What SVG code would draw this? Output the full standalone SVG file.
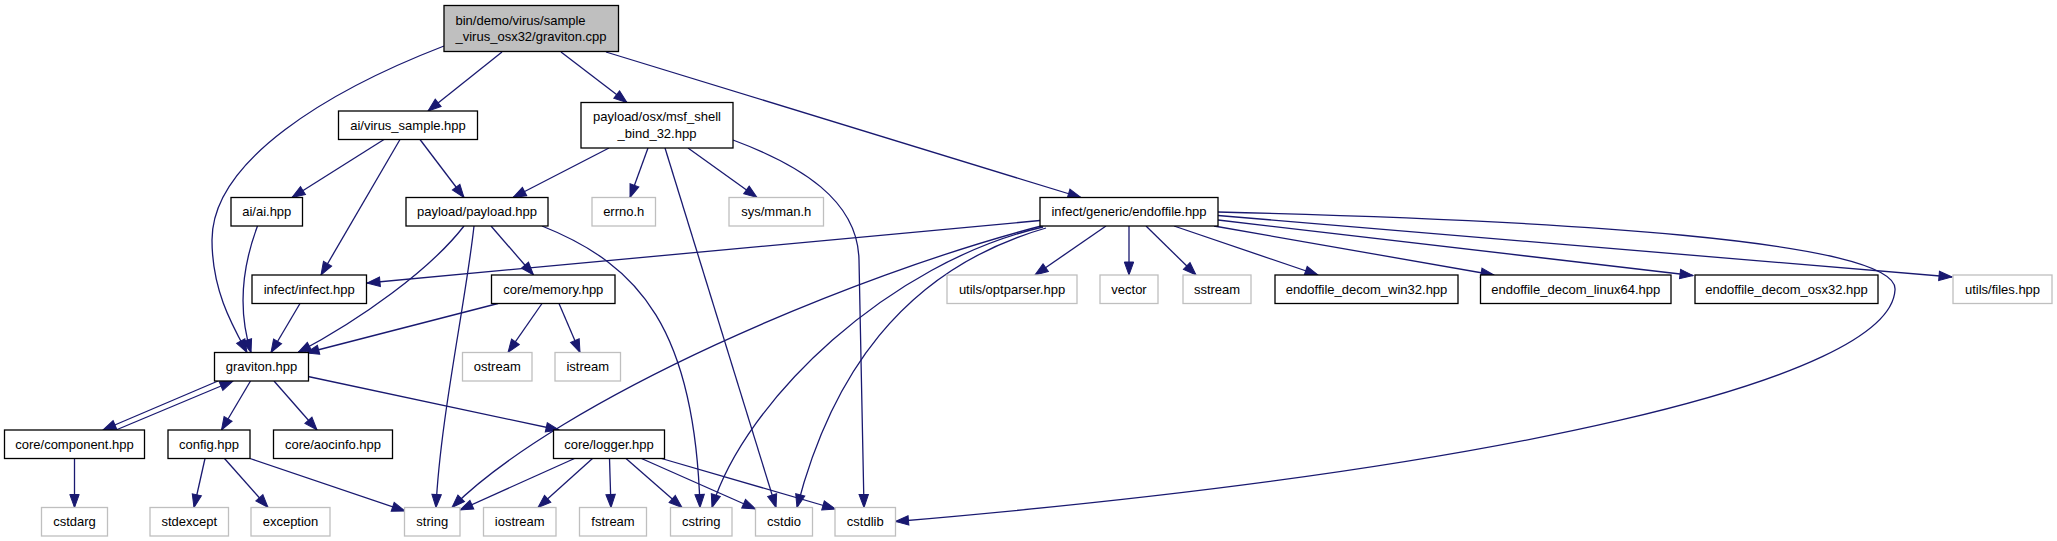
<svg xmlns="http://www.w3.org/2000/svg" width="2057" height="541" viewBox="0 0 2057 541">
<style>
.n rect{fill:#fff;stroke:#000;stroke-width:1.3}
.g rect{fill:#fff;stroke:#bfbfbf;stroke-width:1.3}
.r rect{fill:#bfbfbf;stroke:#000;stroke-width:1.3}
text{font-family:"Liberation Sans",Arial,Helvetica,sans-serif;font-size:13px;fill:#000;text-anchor:middle}
.r text{text-anchor:start}
#edges path{fill:none;stroke:#191970;stroke-width:1.3;marker-end:url(#a)}
</style>
<defs>
<marker id="a" viewBox="0 0 13 9.4" refX="13" refY="4.7" markerWidth="13" markerHeight="9.4" markerUnits="userSpaceOnUse" orient="auto" overflow="visible">
<path d="M0,0 L13,4.7 L0,9.4 z" fill="#191970" stroke="#191970" stroke-width="1"/>
</marker>
</defs>
<rect width="2057" height="541" fill="#fff"/>
<g id="edges">
<path d="M502,52 L428,111"/>
<path d="M561,52 L627,102.5"/>
<path d="M606,52 L1081,197.5"/>
<path d="M444,46 C330,90 212,160 212,240 C212,290 232,325 247,352.5"/>
<path d="M384,139.5 L292,197.5"/>
<path d="M400,139.5 L321,275"/>
<path d="M420,139.5 L464,197.5"/>
<path d="M609,148 L513,197.5"/>
<path d="M648,148 L630,197.5"/>
<path d="M688,148 L757,197.5"/>
<path d="M665,148 L776,507.5"/>
<path d="M733,140 C800,165 858,200 859,260 L864,507.5"/>
<path d="M257.5,226 C244,262 236,305 251,352.5"/>
<path d="M464,226 C430,270 360,320 298,352.5"/>
<path d="M474,226 C466,300 440,420 436,507.5"/>
<path d="M491,226 L533.5,275"/>
<path d="M542,226 C640,265 695,330 700,507.5"/>
<path d="M300,303.5 L271,352.5"/>
<path d="M498,303.5 L306,353"/>
<path d="M542,303.5 L508,352.5"/>
<path d="M559,303.5 L580,352.5"/>
<path d="M1040,220.5 L367,283"/>
<path d="M1045,225 C850,275 560,400 452,507.5"/>
<path d="M1043,227 C890,262 745,400 712,507.5"/>
<path d="M1046,228 C900,270 830,380 797,507.5"/>
<path d="M1218,212 C1550,220 1900,240 1895,290 C1890,380 1500,470 895.5,521.5"/>
<path d="M1106,226 L1035,275"/>
<path d="M1129,226 L1129,275"/>
<path d="M1146,226 L1196,275"/>
<path d="M1174,226 L1318,275"/>
<path d="M1214,226 L1494,275"/>
<path d="M1218,220 L1693,275.5"/>
<path d="M1218,215.5 L1952,277"/>
<path d="M218,381 L103,430"/>
<path d="M116,430 L233,381"/>
<path d="M250.5,381 L221.5,430"/>
<path d="M274,381 L317,430"/>
<path d="M308,376.5 L559,430"/>
<path d="M205,458.5 L194,507.5"/>
<path d="M224.5,458.5 L268,507.5"/>
<path d="M250,458.5 L405,511"/>
<path d="M74.5,458.5 L74.5,507.5"/>
<path d="M574.5,458.5 L460,510"/>
<path d="M592.5,458.5 L538,507.5"/>
<path d="M609.5,458.5 L611,507.5"/>
<path d="M626,458.5 L682,507.5"/>
<path d="M641.5,458.5 L755.5,509"/>
<path d="M661.5,458.5 L835.5,509"/>
</g>
<g id="n0" class="r"><rect x="444" y="5.5" width="174.5" height="46"/><text x="455.5" y="24.5">bin/demo/virus/sample</text><text x="455.5" y="40.5">_virus_osx32/graviton.cpp</text></g>
<g id="n1" class="n"><rect x="338.5" y="111" width="139" height="28.5"/><text x="408" y="129.5">ai/virus_sample.hpp</text></g>
<g id="n2" class="n"><rect x="581" y="102.5" width="152" height="45.5"/><text x="657" y="121">payload/osx/msf_shell</text><text x="657" y="137.5">_bind_32.hpp</text></g>
<g id="n3" class="n"><rect x="231" y="197.5" width="71.5" height="28.5"/><text x="266.75" y="216">ai/ai.hpp</text></g>
<g id="n4" class="n"><rect x="406" y="197.5" width="142" height="28.5"/><text x="477" y="216">payload/payload.hpp</text></g>
<g id="n5" class="g"><rect x="592" y="197.5" width="63.5" height="28.5"/><text x="623.75" y="216">errno.h</text></g>
<g id="n6" class="g"><rect x="729" y="197.5" width="94.5" height="28.5"/><text x="776.25" y="216">sys/mman.h</text></g>
<g id="n7" class="n"><rect x="1040" y="197.5" width="178" height="28.5"/><text x="1129" y="216">infect/generic/endoffile.hpp</text></g>
<g id="n8" class="n"><rect x="252" y="275" width="114.5" height="28.5"/><text x="309.25" y="293.5">infect/infect.hpp</text></g>
<g id="n9" class="n"><rect x="491.5" y="275" width="123.5" height="28.5"/><text x="553.25" y="293.5">core/memory.hpp</text></g>
<g id="n10" class="g"><rect x="947" y="275" width="130" height="28.5"/><text x="1012" y="293.5">utils/optparser.hpp</text></g>
<g id="n11" class="g"><rect x="1100" y="275" width="58" height="28.5"/><text x="1129" y="293.5">vector</text></g>
<g id="n12" class="g"><rect x="1183" y="275" width="68" height="28.5"/><text x="1217" y="293.5">sstream</text></g>
<g id="n13" class="n"><rect x="1275" y="275" width="183" height="28.5"/><text x="1366.5" y="293.5">endoffile_decom_win32.hpp</text></g>
<g id="n14" class="n"><rect x="1480.5" y="275" width="190.5" height="28.5"/><text x="1575.75" y="293.5">endoffile_decom_linux64.hpp</text></g>
<g id="n15" class="n"><rect x="1695" y="275" width="183" height="28.5"/><text x="1786.5" y="293.5">endoffile_decom_osx32.hpp</text></g>
<g id="n16" class="g"><rect x="1953" y="275" width="99" height="28.5"/><text x="2002.5" y="293.5">utils/files.hpp</text></g>
<g id="n17" class="n"><rect x="214.5" y="352.5" width="94" height="28.5"/><text x="261.5" y="371">graviton.hpp</text></g>
<g id="n18" class="g"><rect x="462.5" y="352.5" width="69.5" height="28.5"/><text x="497.25" y="371">ostream</text></g>
<g id="n19" class="g"><rect x="555" y="352.5" width="65.5" height="28.5"/><text x="587.75" y="371">istream</text></g>
<g id="n20" class="n"><rect x="4.5" y="430" width="140" height="28.5"/><text x="74.5" y="448.5">core/component.hpp</text></g>
<g id="n21" class="n"><rect x="168" y="430" width="82" height="28.5"/><text x="209" y="448.5">config.hpp</text></g>
<g id="n22" class="n"><rect x="273.5" y="430" width="119" height="28.5"/><text x="333" y="448.5">core/aocinfo.hpp</text></g>
<g id="n23" class="n"><rect x="553.5" y="430" width="111" height="28.5"/><text x="609" y="448.5">core/logger.hpp</text></g>
<g id="n24" class="g"><rect x="41.5" y="507.5" width="66" height="28.5"/><text x="74.5" y="526">cstdarg</text></g>
<g id="n25" class="g"><rect x="150" y="507.5" width="78.5" height="28.5"/><text x="189.25" y="526">stdexcept</text></g>
<g id="n26" class="g"><rect x="251" y="507.5" width="79" height="28.5"/><text x="290.5" y="526">exception</text></g>
<g id="n27" class="g"><rect x="404.5" y="507.5" width="55.5" height="28.5"/><text x="432.25" y="526">string</text></g>
<g id="n28" class="g"><rect x="483.5" y="507.5" width="72.5" height="28.5"/><text x="519.75" y="526">iostream</text></g>
<g id="n29" class="g"><rect x="579.5" y="507.5" width="67" height="28.5"/><text x="613" y="526">fstream</text></g>
<g id="n30" class="g"><rect x="670.5" y="507.5" width="61.5" height="28.5"/><text x="701.25" y="526">cstring</text></g>
<g id="n31" class="g"><rect x="755.5" y="507.5" width="57" height="28.5"/><text x="784" y="526">cstdio</text></g>
<g id="n32" class="g"><rect x="835" y="507.5" width="60.5" height="28.5"/><text x="865.25" y="526">cstdlib</text></g>
</svg>
